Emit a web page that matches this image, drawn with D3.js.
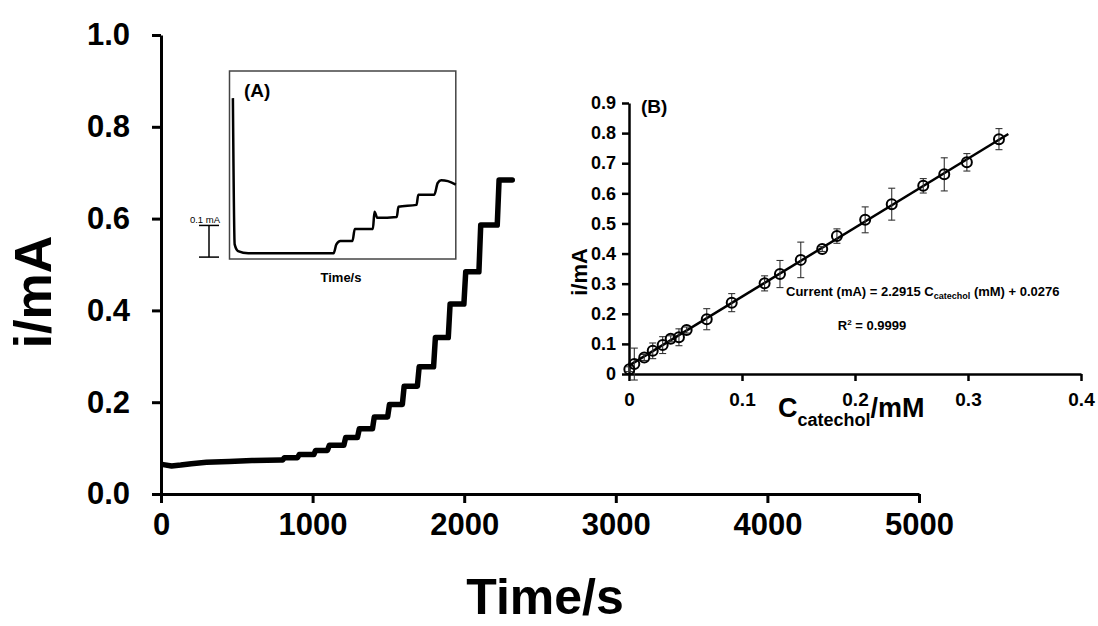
<!DOCTYPE html>
<html>
<head>
<meta charset="utf-8">
<script src="https://cdn.jsdelivr.net/npm/d3@7"></script>
<style>
  body { margin: 0; background: #fff; }
  svg { font-family: "Liberation Sans", Arial, sans-serif; font-weight: bold; }
  .axis path, .axis line { stroke: #000; }
  .axis text { fill: #000; font-weight: bold; }
</style>
</head>
<body>
<div id="chart"></div>
<script>
// main amperogram: slow baseline then ~100 s additions
var baseT = [15, 70, 130, 200, 300, 450, 600, 790];
var baseI = [0.064, 0.061, 0.063, 0.066, 0.069, 0.071, 0.073, 0.074];
var stepT = [802, 900, 1008, 1098, 1206, 1296, 1395, 1495, 1592, 1691, 1798, 1895, 1998, 2097, 2218];
var stepI = [0.079, 0.086, 0.095, 0.106, 0.123, 0.142, 0.168, 0.195, 0.235, 0.277, 0.341, 0.414, 0.484, 0.586, 0.684];
var endT = 2317;
var mainXTicks = [0, 1000, 2000, 3000, 4000, 5000];
var mainYTicks = [0, 0.2, 0.4, 0.6, 0.8, 1.0];

// inset (A): first additions, zoomed
var insetT = [21, 32, 53, 116, 644, 661, 686, 761, 775, 887, 897, 915, 1035, 1045, 1157, 1168, 1267, 1288, 1310, 1351, 1400];
var insetI = [0.508, 0.046, 0.025, 0.018, 0.018, 0.046, 0.057, 0.057, 0.095, 0.095, 0.149, 0.130, 0.133, 0.165, 0.171, 0.203, 0.203, 0.240, 0.249, 0.246, 0.235];

// inset (B): calibration
var concB = [0.0003, 0.0047, 0.0135, 0.021, 0.0298, 0.0369, 0.0442, 0.051, 0.0688, 0.0909, 0.120, 0.1336, 0.152, 0.171, 0.184, 0.209, 0.2325, 0.2604, 0.279, 0.299, 0.3274];
var currB = [0.016, 0.033, 0.055, 0.077, 0.096, 0.117, 0.122, 0.146, 0.182, 0.237, 0.301, 0.332, 0.379, 0.415, 0.458, 0.512, 0.564, 0.625, 0.663, 0.703, 0.780];
var errB = [0.008, 0.053, 0.01, 0.026, 0.028, 0.01, 0.028, 0.01, 0.035, 0.03, 0.025, 0.045, 0.059, 0.008, 0.024, 0.043, 0.053, 0.024, 0.055, 0.029, 0.035];
var fitSlope = 2.2915, fitIntercept = 0.0276, fitMax = 0.3357;
var bXTicks = [0, 0.1, 0.2, 0.3, 0.4];
var bYTicks = [0, 0.1, 0.2, 0.3, 0.4, 0.5, 0.6, 0.7, 0.8, 0.9];

var svg = d3.select("#chart").append("svg")
  .attr("width", 1098)
  .attr("height", 626);

//---- main chart
var x = d3.scaleLinear().domain([0, 5000]).range([161, 919]);
var y = d3.scaleLinear().domain([0, 1]).range([494, 35]);

var mainPts = baseT.map((t, i) => [t, baseI[i]]);
var prev = baseI[baseI.length - 1];
stepT.forEach(function(t, k) {
  mainPts.push([t, prev]);
  mainPts.push([t + 12, stepI[k]]);
  prev = stepI[k];
});
mainPts.push([endT, prev]);

var xAxis = svg.append("g")
  .attr("class", "axis")
  .attr("transform", "translate(0," + y(0) + ")")
  .call(d3.axisBottom(x).tickValues(mainXTicks).tickSize(9).tickSizeOuter(0).tickPadding(10).tickFormat(d3.format("d")));
xAxis.select(".domain").attr("stroke-width", 3);
xAxis.selectAll(".tick line").attr("stroke-width", 3);
xAxis.selectAll("text").style("font-size", "31px").attr("dy", "0.71em");

var yAxis = svg.append("g")
  .attr("class", "axis")
  .attr("transform", "translate(" + x(0) + ",0)")
  .call(d3.axisLeft(y).tickValues(mainYTicks).tickSize(9).tickSizeOuter(0).tickPadding(22).tickFormat(d3.format(".1f")));
yAxis.select(".domain").attr("stroke-width", 3);
yAxis.selectAll(".tick line").attr("stroke-width", 3);
yAxis.selectAll("text").style("font-size", "31px");

svg.append("path")
  .datum(mainPts)
  .attr("fill", "none")
  .attr("stroke", "#000")
  .attr("stroke-width", 5.5)
  .attr("stroke-linejoin", "round")
  .attr("stroke-linecap", "round")
  .attr("d", d3.line().x(d => x(d[0])).y(d => y(d[1])));

svg.append("text")
  .attr("x", 545).attr("y", 614)
  .attr("text-anchor", "middle")
  .style("font-size", "50px")
  .text("Time/s");

svg.append("text")
  .attr("transform", "translate(51,292) rotate(-90)")
  .attr("text-anchor", "middle")
  .style("font-size", "52px")
  .text("i/mA");

//---- inset A
var xa = d3.scaleLinear().domain([0, 1400]).range([229.5, 455.8]);
var ya = d3.scaleLinear().domain([0, 0.6]).range([259, 69]);

svg.append("rect")
  .attr("x", 229.5).attr("y", 71)
  .attr("width", 226.3).attr("height", 188)
  .attr("fill", "none")
  .attr("stroke", "#444")
  .attr("stroke-width", 1.5);

svg.append("path")
  .datum(insetT.map((t, i) => [t, insetI[i]]))
  .attr("fill", "none")
  .attr("stroke", "#000")
  .attr("stroke-width", 2.5)
  .attr("stroke-linejoin", "round")
  .attr("d", d3.line().x(d => xa(d[0])).y(d => ya(d[1])).curve(d3.curveMonotoneX));

svg.append("text").attr("x", 244).attr("y", 97).style("font-size", "19px").text("(A)");
svg.append("text").attr("x", 341).attr("y", 282).attr("text-anchor", "middle").style("font-size", "13px").text("Time/s");

// 0.1 mA scale bar
var barLo = 0.006, barHi = 0.106;
var bar = svg.append("g").attr("stroke", "#000").attr("stroke-width", 1.5);
bar.append("line").attr("x1", 209).attr("x2", 209).attr("y1", ya(barLo)).attr("y2", ya(barHi));
bar.append("line").attr("x1", 199).attr("x2", 219).attr("y1", ya(barLo)).attr("y2", ya(barLo));
bar.append("line").attr("x1", 199).attr("x2", 219).attr("y1", ya(barHi)).attr("y2", ya(barHi));
svg.append("text").attr("x", 205).attr("y", ya(barHi) - 2).attr("text-anchor", "middle")
  .style("font-size", "9.5px").style("font-weight", "normal").text("0.1 mA");

//---- inset B
var xb = d3.scaleLinear().domain([0, 0.4]).range([629, 1081]);
var yb = d3.scaleLinear().domain([0, 0.9]).range([374, 103]);
var fmtB = d => d === 0 ? "0" : d.toFixed(1);

var bx = svg.append("g")
  .attr("class", "axis")
  .attr("transform", "translate(0," + yb(0) + ")")
  .call(d3.axisBottom(xb).tickValues(bXTicks).tickSize(7).tickSizeOuter(0).tickPadding(12).tickFormat(fmtB));
bx.select(".domain").attr("stroke-width", 2.5);
bx.selectAll(".tick line").attr("stroke-width", 2.5);
bx.selectAll("text").style("font-size", "19px");

var by = svg.append("g")
  .attr("class", "axis")
  .attr("transform", "translate(" + xb(0) + ",0)")
  .call(d3.axisLeft(yb).tickValues(bYTicks).tickSize(7).tickSizeOuter(0).tickPadding(6).tickFormat(fmtB));
by.select(".domain").attr("stroke-width", 2.5);
by.selectAll(".tick line").attr("stroke-width", 2.5);
by.selectAll("text").style("font-size", "18px");

// fitted line
svg.append("line")
  .attr("x1", xb(0)).attr("y1", yb(fitIntercept))
  .attr("x2", xb(fitMax)).attr("y2", yb(fitSlope * fitMax + fitIntercept))
  .attr("stroke", "#000").attr("stroke-width", 2.5);

var ptsB = concB.map((c, i) => ({c: c, v: currB[i], e: errB[i]}));
var err = svg.append("g").attr("stroke", "#333").attr("stroke-width", 1.1);
err.selectAll(".ev").data(ptsB).enter().append("line")
  .attr("x1", d => xb(d.c)).attr("x2", d => xb(d.c))
  .attr("y1", d => yb(d.v - d.e)).attr("y2", d => yb(d.v + d.e));
err.selectAll(".et").data(ptsB).enter().append("line")
  .attr("x1", d => xb(d.c) - 3.5).attr("x2", d => xb(d.c) + 3.5)
  .attr("y1", d => yb(d.v + d.e)).attr("y2", d => yb(d.v + d.e));
err.selectAll(".eb").data(ptsB).enter().append("line")
  .attr("x1", d => xb(d.c) - 3.5).attr("x2", d => xb(d.c) + 3.5)
  .attr("y1", d => yb(d.v - d.e)).attr("y2", d => yb(d.v - d.e));

svg.append("g").selectAll("circle").data(ptsB).enter().append("circle")
  .attr("cx", d => xb(d.c)).attr("cy", d => yb(d.v))
  .attr("r", 5)
  .attr("fill", "none")
  .attr("stroke", "#000")
  .attr("stroke-width", 2);

svg.append("text").attr("x", 641).attr("y", 113).style("font-size", "19px").text("(B)");

svg.append("text")
  .attr("transform", "translate(587,272) rotate(-90)")
  .attr("text-anchor", "middle")
  .style("font-size", "22px")
  .text("i/mA");

var xl = svg.append("text").attr("x", 778).attr("y", 417).style("font-size", "27px");
xl.append("tspan").text("C");
xl.append("tspan").attr("dy", 9).style("font-size", "18px").text("catechol");
xl.append("tspan").attr("dy", -9).text("/mM");

var eq = svg.append("text").attr("x", 786).attr("y", 296).style("font-size", "13px");
eq.append("tspan").text("Current (mA) = 2.2915 C");
eq.append("tspan").attr("dy", 3).style("font-size", "9px").text("catechol");
eq.append("tspan").attr("dy", -3).text(" (mM) + 0.0276");

var r2 = svg.append("text").attr("x", 872).attr("y", 330).attr("text-anchor", "middle").style("font-size", "13px");
r2.append("tspan").text("R");
r2.append("tspan").attr("dy", -5).style("font-size", "8px").text("2");
r2.append("tspan").attr("dy", 5).text(" = 0.9999");
</script>
</body>
</html>
